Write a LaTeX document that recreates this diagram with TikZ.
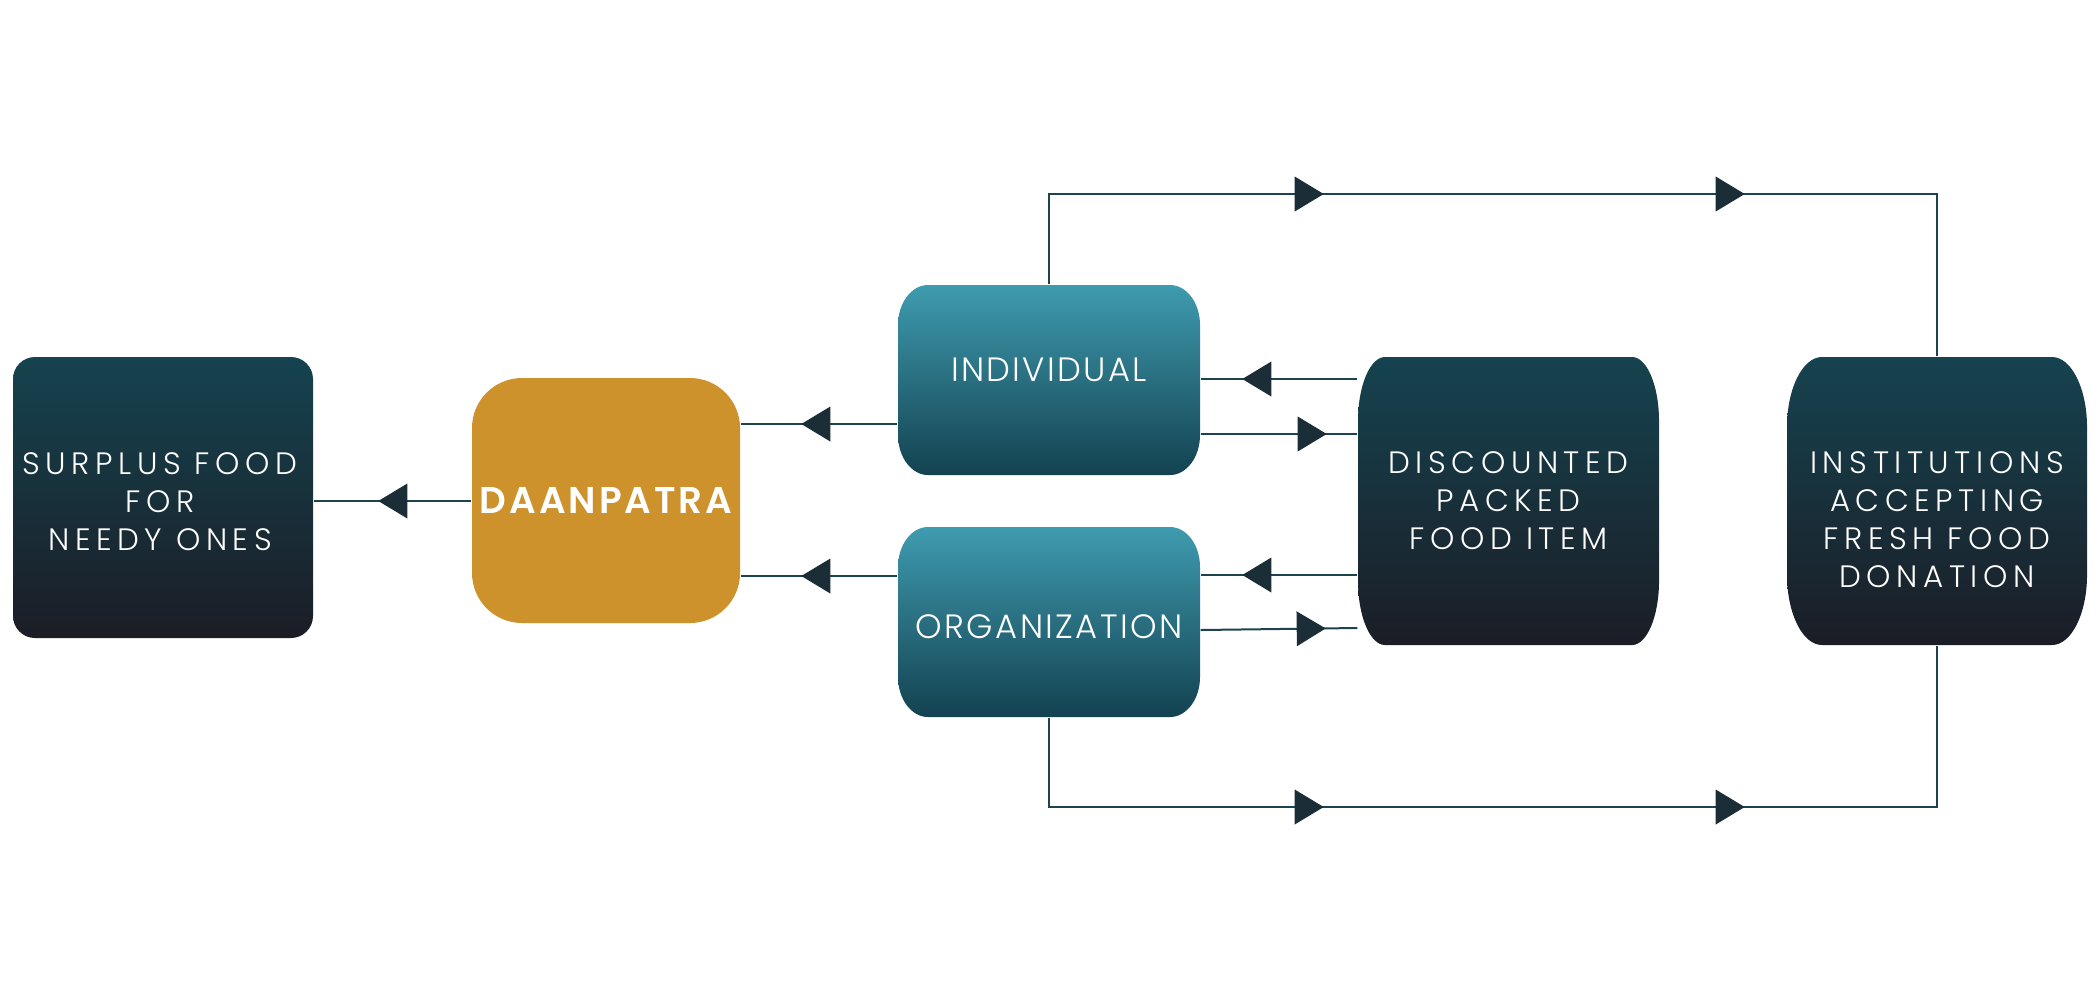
\documentclass[tikz,border=0pt]{standalone}
\usepackage{fontspec}
\setmainfont{Poppins}[UprightFont=* Light, BoldFont=* SemiBold]
\newfontfamily\boxfont{Poppins Light}[LetterSpace=18]
\newfontfamily\tealfont{Poppins Light}[LetterSpace=7]
\newfontfamily\daanfont{Poppins SemiBold}[LetterSpace=8]
\usetikzlibrary{arrows.meta,decorations.markings,backgrounds}
\definecolor{linecol}{HTML}{1D4350}
\definecolor{arrowfill}{HTML}{1B2D37}
\definecolor{tealtop}{HTML}{3F9BB0}
\definecolor{tealbot}{HTML}{134250}
\definecolor{darktop}{HTML}{15434F}
\definecolor{darkbot}{HTML}{1B1D26}
\definecolor{gold}{HTML}{CD922C}
% elliptical-cornered box: style, x1, y1, x2, y2, rx, ry
\newcommand\ellshape[7]{%
  \path[#1] ({#2+#6},#3) -- ({#4-#6},#3)
    .. controls ({#4-0.4477*#6},#3) and (#4,{#3+0.4477*#7}) .. (#4,{#3+#7})
    -- (#4,{#5-#7})
    .. controls (#4,{#5-0.4477*#7}) and ({#4-0.4477*#6},#5) .. ({#4-#6},#5)
    -- ({#2+#6},#5)
    .. controls ({#2+0.4477*#6},#5) and (#2,{#5-0.4477*#7}) .. (#2,{#5-#7})
    -- (#2,{#3+#7})
    .. controls (#2,{#3+0.4477*#7}) and ({#2+0.4477*#6},#3) .. ({#2+#6},#3) -- cycle;}
\tikzset{
  darkfill/.style={top color=darktop, bottom color=darkbot, draw=none},
  tealfill/.style={top color=tealtop, bottom color=tealbot, draw=none},
  slot/.style={draw=none, fill=none, inner sep=0pt},
  boxtext/.style={text=white, align=center, inner sep=0pt, font=\boxfont\fontsize{8.8}{10.8}\selectfont},
  tealtext/.style={text=white, align=center, inner sep=0pt, font=\tealfont\fontsize{9.6}{11}\selectfont},
  conn/.style={draw=linecol, line width=0.2mm},
  tipmark/.style={postaction=decorate, decoration={markings,
    mark=at position #1 with {\arrow{Triangle[length=2.9mm,width=3.5mm,fill=arrowfill,color=arrowfill,line width=0pt]}}}},
  twotips/.style 2 args={postaction=decorate, decoration={markings,
    mark=at position #1 with {\arrow{Triangle[length=2.9mm,width=3.5mm,fill=arrowfill,color=arrowfill,line width=0pt]}},
    mark=at position #2 with {\arrow{Triangle[length=2.9mm,width=3.5mm,fill=arrowfill,color=arrowfill,line width=0pt]}}}}
}
\begin{document}
\begin{tikzpicture}[x=0.1mm,y=-0.1mm]
\useasboundingbox (0,0) rectangle (2100,1000);

% Surplus box
\node (surplus) [darkfill, inner sep=0pt, minimum width=30mm, minimum height=28.1mm, rounded corners=2.2mm] at (163,497.5) {};
\node (surplustxt) [boxtext] at (160,502) {SURPLUS FOOD\\FOR\\NEEDY ONES};

% Daanpatra
\node (daan) [fill=gold, draw=none, minimum width=26.8mm, minimum height=24.5mm, rounded corners=5mm,
  text=white, font=\daanfont\fontsize{10.6}{12}\selectfont, inner sep=0pt] at (606,500.5) {DAANPATRA};

% Individual / Organization
\ellshape{tealfill}{898}{285}{1200}{475}{30}{40}
\node (ind) [slot, minimum width=30.2mm, minimum height=19mm] at (1049,380) {};
\node (indtxt) [tealtext] at (1049,370) {INDIVIDUAL};
\ellshape{tealfill}{898}{527}{1200}{717}{30}{40}
\node (org) [slot, minimum width=30.2mm, minimum height=19mm] at (1049,622) {};
\node (orgtxt) [tealtext] at (1049,627) {ORGANIZATION};

% Discounted
\ellshape{darkfill}{1358}{357}{1659}{645}{27}{64}
\node (disc) [slot, minimum width=30.1mm, minimum height=28.8mm] at (1508.5,501) {};
\node (disctxt) [boxtext] at (1508.5,501) {DISCOUNTED\\PACKED\\FOOD ITEM};

% Institutions
\ellshape{darkfill}{1787}{357}{2087}{645}{35}{70}
\node (inst) [slot, minimum width=30mm, minimum height=28.8mm] at (1937,501) {};
\node (insttxt) [boxtext] at (1937,520) {INSTITUTIONS\\ACCEPTING\\FRESH FOOD\\DONATION};

% helper coordinates
\coordinate (ya) at (0,501);
\coordinate (yb) at (0,424);
\coordinate (yc) at (0,576);
\coordinate (yd) at (0,379);
\coordinate (ye) at (0,434);
\coordinate (yf) at (0,575);
\coordinate (yg) at (0,630);
\coordinate (yh) at (0,628);
\coordinate (ytop) at (0,194);
\coordinate (ybot) at (0,807);

\begin{scope}[on background layer]
\draw[conn, tipmark=9.3mm] (daan.west |- ya) -- (surplus.east |- ya);
\draw[conn, tipmark=9.6mm] (ind.west |- yb) -- (daan.east |- yb);
\draw[conn, tipmark=9.6mm] (org.west |- yc) -- (daan.east |- yc);
\draw[conn, tipmark=11.5mm] (disc.west |- yd) -- (ind.east |- yd);
\draw[conn, tipmark=12.6mm] (ind.east |- ye) -- (disc.west |- ye);
\draw[conn, tipmark=11.5mm] (disc.west |- yf) -- (org.east |- yf);
\draw[conn, tipmark=12.5mm] (org.east |- yg) -- (disc.west |- yh);
\draw[conn, twotips={36.5mm}{78.6mm}] (ind.north) -- (ind.north |- ytop) -- (inst.north |- ytop) -- (inst.north);
\draw[conn, twotips={36.4mm}{78.5mm}] (org.south) -- (org.south |- ybot) -- (inst.south |- ybot) -- (inst.south);
\end{scope}
\end{tikzpicture}
\end{document}
